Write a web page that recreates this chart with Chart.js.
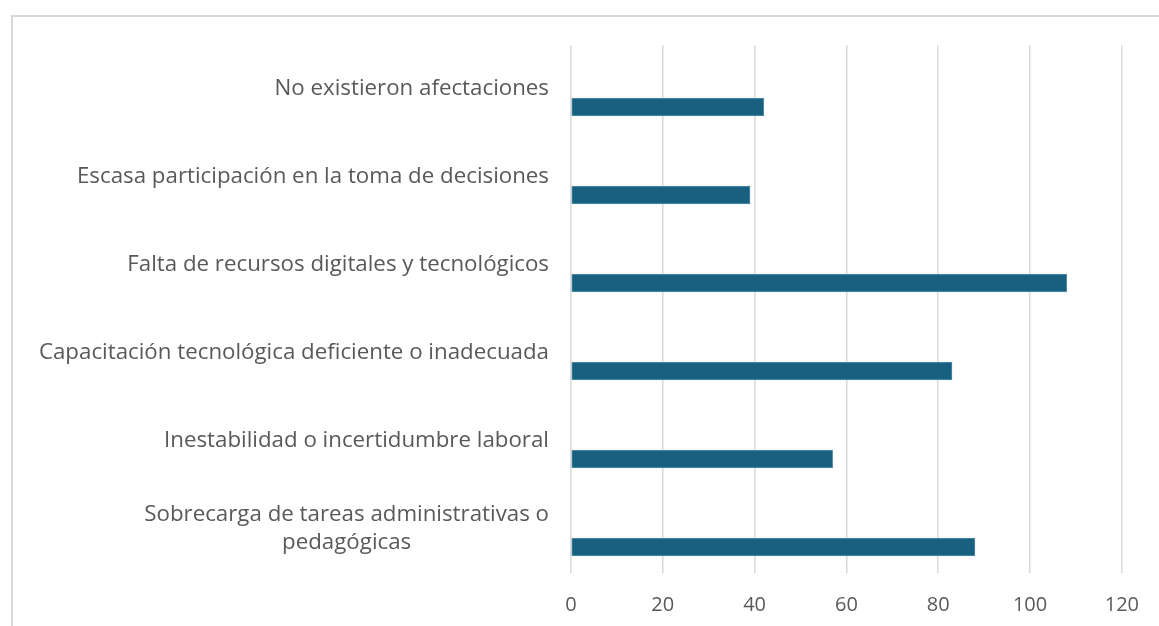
<!DOCTYPE html>
<html>
<head>
<meta charset="utf-8">
<script src="https://cdn.jsdelivr.net/npm/chart.js@4.4.1/dist/chart.umd.min.js"></script>
<style>
  html, body { margin: 0; padding: 0; background: #ffffff; overflow: hidden; }
  #wrap { position: relative; width: 1159px; height: 626px; }
  #frame { position: absolute; left: 11px; top: 15px; width: 1300px; height: 800px;
           border: 2px solid #d9d9d9; box-sizing: border-box; pointer-events: none; }
  canvas { position: absolute; left: 0; top: 0; }
</style>
</head>
<body>
<div id="wrap">
  <div id="frame"></div>
  <canvas id="c" width="1159" height="626"></canvas>
</div>
<script>
// ---- data ----
const categories = [
  ["No existieron afectaciones"],
  ["Escasa participación en la toma de decisiones"],
  ["Falta de recursos digitales y tecnológicos"],
  ["Capacitación tecnológica deficiente o inadecuada"],
  ["Inestabilidad o incertidumbre laboral"],
  ["Sobrecarga de tareas administrativas o", "pedagógicas"]
];
const values = [42, 39, 108, 83, 57, 88];
const xTicks = [0, 20, 40, 60, 80, 100, 120];

// ---- style ----
const FONT = '"Open Sans", "Liberation Sans", sans-serif';
const LABEL_SIZE = 22.3;
const TICK_SIZE = 20;
const TEXT_COLOR = '#595959';
const BAR_COLOR = '#17607f';
const BAR_SHIFT = 18;       // bars sit in the lower part of each category band
const LINE_GAP = 28;

// bars drawn in the lower slot of each category (as in the original grouped layout)
const barShiftPlugin = {
  id: 'barShift',
  beforeDatasetsDraw(chart) { chart.ctx.save(); chart.ctx.translate(0, BAR_SHIFT); },
  afterDatasetsDraw(chart) { chart.ctx.restore(); }
};

// category labels: right-aligned block, wrapped lines centred within it
const yLabelPlugin = {
  id: 'yLabels',
  afterDraw(chart) {
    const ctx = chart.ctx;
    const ys = chart.scales.y;
    const rightEdge = chart.chartArea.left - 22;
    ctx.save();
    ctx.font = LABEL_SIZE + 'px ' + FONT;
    ctx.fillStyle = TEXT_COLOR;
    ctx.textAlign = 'center';
    ctx.textBaseline = 'middle';
    categories.forEach((lines, i) => {
      const cy = ys.getPixelForValue(i);
      const w = Math.max(...lines.map(l => ctx.measureText(l).width));
      const cx = rightEdge - w / 2;
      const y0 = cy - (lines.length - 1) * LINE_GAP / 2;
      lines.forEach((l, k) => ctx.fillText(l, cx, y0 + k * LINE_GAP));
    });
    ctx.restore();
  }
};

new Chart(document.getElementById('c'), {
  type: 'bar',
  data: {
    labels: categories.map(c => c.join(' ')),
    datasets: [{
      data: values,
      backgroundColor: BAR_COLOR,
      borderColor: '#5a8ea8',
      borderWidth: 1,
      borderSkipped: false,
      barThickness: 18
    }]
  },
  options: {
    indexAxis: 'y',
    responsive: false,
    animation: false,
    devicePixelRatio: 1,
    layout: { padding: { left: 0, right: 36, top: 45, bottom: 0 } },
    plugins: { legend: { display: false }, tooltip: { enabled: false } },
    scales: {
      x: {
        type: 'linear',
        min: xTicks[0],
        max: xTicks[xTicks.length - 1],
        afterBuildTicks(scale) { scale.ticks = xTicks.map(v => ({ value: v })); },
        afterFit(scale) { scale.height = 53; },
        grid: { color: '#d9d9d9', lineWidth: 1.5, drawTicks: false },
        border: { display: false },
        ticks: { color: TEXT_COLOR, font: { family: FONT, size: TICK_SIZE }, padding: 20 }
      },
      y: {
        type: 'category',
        afterFit(scale) { scale.width = 571; },
        grid: { display: false },
        border: { display: false },
        ticks: { display: false }
      }
    }
  },
  plugins: [barShiftPlugin, yLabelPlugin]
});
</script>
</body>
</html>
